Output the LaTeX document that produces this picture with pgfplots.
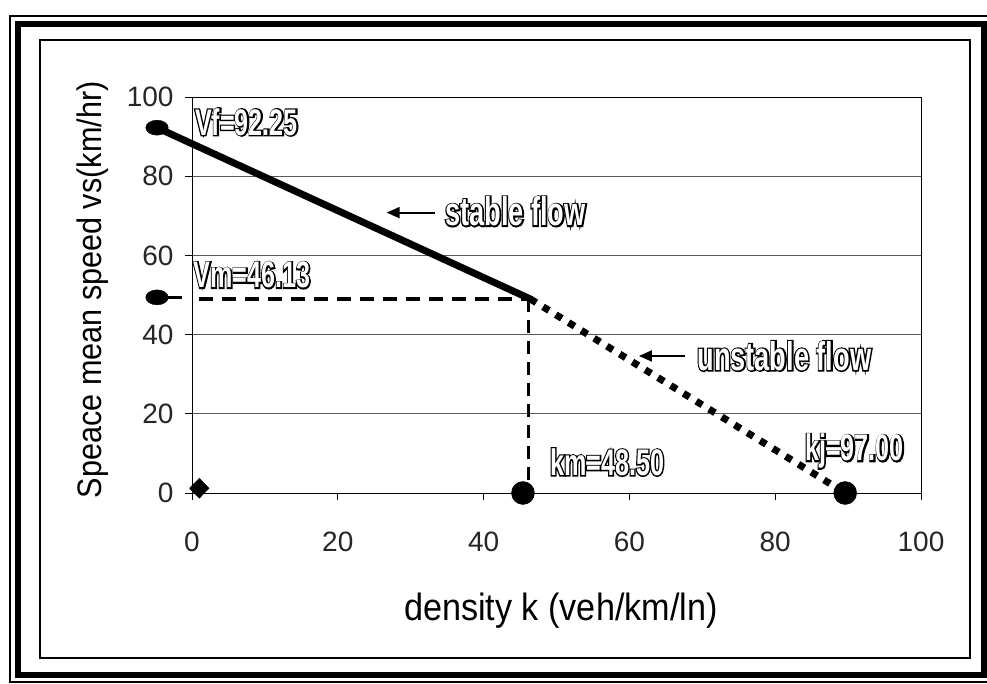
\documentclass[border=0pt]{standalone}
\usepackage{fontspec}
\setmainfont{Liberation Sans}
\newfontfamily\annfont[FakeStretch=0.68]{Liberation Sans}
\newfontfamily\xlfont[FakeStretch=0.9]{Liberation Sans}
\newfontfamily\ylfont[FakeStretch=0.9]{Liberation Sans}
\usepackage{pgfplots}
\pgfplotsset{compat=1.18}
\usetikzlibrary{arrows.meta}
\newcommand{\ann}[1]{\leavevmode\rlap{\addfontfeature{FakeBold=7}\textcolor{black}{#1}}\textcolor{white}{#1}}
\begin{document}
\begin{tikzpicture}[x=1pt,y=1pt]
\clip (0,0) rectangle (987,684);
\fill[white] (0,0) rectangle (987,684);
% frame
\draw[line width=1.2pt] (10,2) rectangle (995,668);
\draw[line width=6pt] (18,9) rectangle (984,660);
\draw[line width=1.5pt] (40,26) rectangle (970,644);
\begin{axis}[
  at={(192pt,191pt)}, anchor=south west,
  scale only axis, width=729pt, height=396pt,
  xmin=0, xmax=100, ymin=0, ymax=100,
  xtick={0,20,...,100}, ytick={0,20,...,100},
  tick align=outside, tick pos=left,
  major tick length=7pt,
  tick style={black, line width=0.7pt},
  ymajorgrids, grid style={black!65, line width=0.7pt},
  axis line style={black, line width=0.8pt},
  clip=false,
  /pgf/number format/assume math mode=true,
  ticklabel style={font=\fontsize{28}{28}\selectfont, text=black!85},
  xticklabel style={yshift=-28pt},
  yticklabel style={xshift=-8pt},
  xlabel={density k (veh/km/ln)},
  xlabel style={at={(axis description cs:0.506,-0.321)}, anchor=base, font=\xlfont\fontsize{38}{38}\selectfont},
  ylabel={Speace mean speed vs(km/hr)},
  ylabel style={at={(axis description cs:-0.136,0.513)}, anchor=center, font=\ylfont\fontsize{34}{34}\selectfont},
]
% stable flow
\addplot[black, line width=7pt, line cap=round] coordinates {(-4.8,92.25) (46.4,49)};
% unstable flow
\addplot[black, line width=7pt, dash pattern=on 7pt off 8pt] coordinates {(46.4,49) (89.6,0)};
% Vm dashed
\addplot[black, line width=3.5pt, dash pattern=on 14pt off 9pt] coordinates {(1,49) (46.2,49)};
\addplot[black, line width=3.3pt, dash pattern=on 13pt off 8pt] coordinates {(46.2,49) (46.2,1)};
\addplot[black, line width=2.5pt] coordinates {(-4.8,49.4) (-1.4,49.4)};
% markers
\addplot[only marks, mark=*, mark size=7.5pt, mark options={xscale=1.5, fill=black, draw=black}] coordinates {(-4.8,92.25) (-4.8,49.4)};
\addplot[only marks, mark=*, mark size=11.5pt, mark options={fill=black, draw=black}] coordinates {(45.4,0) (89.6,0)};
\addplot[only marks, mark=diamond*, mark size=10pt, mark options={fill=black, draw=black, xscale=1.3}] coordinates {(1,1.2)};
% annotations
\node[anchor=west, inner sep=0pt, font=\annfont\bfseries\fontsize{37}{37}\selectfont] at (axis cs:0.4,93.7) {\ann{Vf=92.25}};
\node[anchor=west, inner sep=0pt, font=\annfont\bfseries\fontsize{37}{37}\selectfont] at (axis cs:0.2,55.0) {\ann{Vm=46.13}};
\node[anchor=west, inner sep=0pt, font=\annfont\bfseries\fontsize{40}{40}\selectfont] at (axis cs:34.7,71.1) {\ann{stable flow}};
\node[anchor=west, inner sep=0pt, font=\annfont\bfseries\fontsize{40}{40}\selectfont] at (axis cs:69.3,34.6) {\ann{unstable flow}};
\node[anchor=west, inner sep=0pt, font=\annfont\bfseries\fontsize{37}{37}\selectfont] at (axis cs:49.1,7.8) {\ann{km=48.50}};
\node[anchor=west, inner sep=0pt, font=\annfont\bfseries\fontsize{37}{37}\selectfont] at (axis cs:84.1,10.5) {\ann{kj=97.00}};
\draw[black, line width=2pt, -{Triangle[length=13pt,width=11pt]}] (axis cs:33.3,70.8) -- (axis cs:26.7,70.8);
\draw[black, line width=2pt, -{Triangle[length=13pt,width=11pt]}] (axis cs:67.6,34.6) -- (axis cs:61.3,34.6);
\end{axis}
\end{tikzpicture}
\end{document}
